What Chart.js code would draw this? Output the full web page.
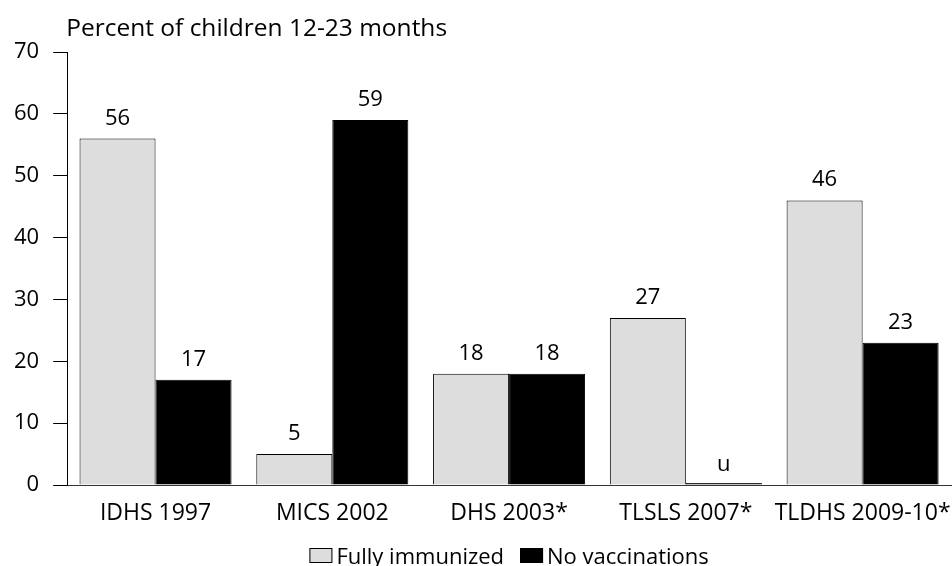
<!DOCTYPE html>
<html>
<head>
<meta charset="utf-8">
<script src="https://cdn.jsdelivr.net/npm/chart.js@4"></script>
<style>
  html, body { margin: 0; padding: 0; background: #fff; }
  #wrap { width: 952px; height: 566px; }
</style>
</head>
<body>
<div id="wrap"><canvas id="vacc_chart" width="952" height="566"></canvas></div>
<script>
const survey_labels = ['IDHS 1997', 'MICS 2002', 'DHS 2003*', 'TLSLS 2007*', 'TLDHS 2009-10*'];
const full_data = [56, 5, 18, 27, 46];
const none_data = [17, 59, 18, 0, 23];
const full_text = ['56', '5', '18', '27', '46'];
const none_text = ['17', '59', '18', 'u', '23'];
const y_ticks = [0, 10, 20, 30, 40, 50, 60, 70];

const FONT = "'Open Sans', sans-serif";

// value labels, title and the legend row
const extras = {
  id: 'extras',
  afterDatasetsDraw(chart) {
    const ctx = chart.ctx;
    const area = chart.chartArea;
    const texts = [full_text, none_text];
    const base = chart.scales.y.getPixelForValue(0);
    ctx.save();
    ctx.fillStyle = '#000';
    ctx.font = '22px ' + FONT;
    ctx.textAlign = 'center';
    ctx.textBaseline = 'alphabetic';
    chart.data.datasets.forEach((ds, i) => {
      chart.getDatasetMeta(i).data.forEach((bar, j) => {
        const top = ds.data[j] === 0 ? base : bar.y;
        ctx.fillText(texts[i][j], bar.x, top - 14);
      });
    });

    ctx.font = '24.5px ' + FONT;
    ctx.textAlign = 'left';
    ctx.fillText('Percent of children 12-23 months', area.left - 1, 36);

    // legend
    ctx.font = '22px ' + FONT;
    const boxW = 23, boxH = 15, gap = 4, itemGap = 16;
    const items = chart.data.datasets.map(ds => ({
      text: ds.label, fill: ds.backgroundColor, w: boxW + gap + ctx.measureText(ds.label).width
    }));
    const total = items.reduce((s, it) => s + it.w, 0) + itemGap * (items.length - 1);
    let x = (area.left + area.right) / 2 - total / 2;
    const boxY = chart.height - 18;
    items.forEach(it => {
      ctx.fillStyle = it.fill;
      ctx.fillRect(x, boxY, boxW, boxH);
      ctx.strokeStyle = '#000';
      ctx.lineWidth = 1;
      ctx.strokeRect(x + 0.5, boxY + 0.5, boxW - 1, boxH - 1);
      ctx.fillStyle = '#000';
      ctx.fillText(it.text, x + boxW + gap, chart.height - 2);
      x += it.w + itemGap;
    });
    ctx.restore();
  }
};

const vacc_config = {
  type: 'bar',
  data: {
    labels: survey_labels,
    datasets: [{
      label: 'Fully immunized',
      data: full_data,
      backgroundColor: '#dddddd',
      borderColor: '#000',
      borderWidth: 1,
      categoryPercentage: 0.86,
      barPercentage: 1
    }, {
      label: 'No vaccinations',
      data: none_data,
      backgroundColor: '#000',
      borderColor: '#000',
      borderWidth: 1,
      minBarLength: 2,
      categoryPercentage: 0.86,
      barPercentage: 1
    }]
  },
  options: {
    responsive: false,
    animation: false,
    layout: { padding: { top: 52, right: 1, left: 0, bottom: 41 } },
    plugins: {
      title: { display: false },
      tooltip: { enabled: false },
      legend: { display: false }
    },
    scales: {
      x: {
        grid: { display: false, drawTicks: false },
        border: { color: '#333', width: 1 },
        ticks: { color: '#000', font: { family: FONT, size: 23 }, padding: 15, maxRotation: 0, autoSkip: false },
        afterFit(axis) {
          axis.height = 40;
          axis.paddingLeft = 0;
          axis.paddingRight = 0;
        }
      },
      y: {
        min: 0,
        max: 70,
        afterBuildTicks(axis) { axis.ticks = y_ticks.map(v => ({ value: v })); },
        grid: { drawOnChartArea: false, drawTicks: true, tickLength: 14, color: '#000' },
        border: { color: '#000', width: 1 },
        ticks: { color: '#000', font: { family: FONT, size: 22 }, padding: 14 }
      }
    }
  },
  plugins: [extras]
};

const vacc_chart = new Chart(document.getElementById('vacc_chart'), vacc_config);
</script>
</body>
</html>
